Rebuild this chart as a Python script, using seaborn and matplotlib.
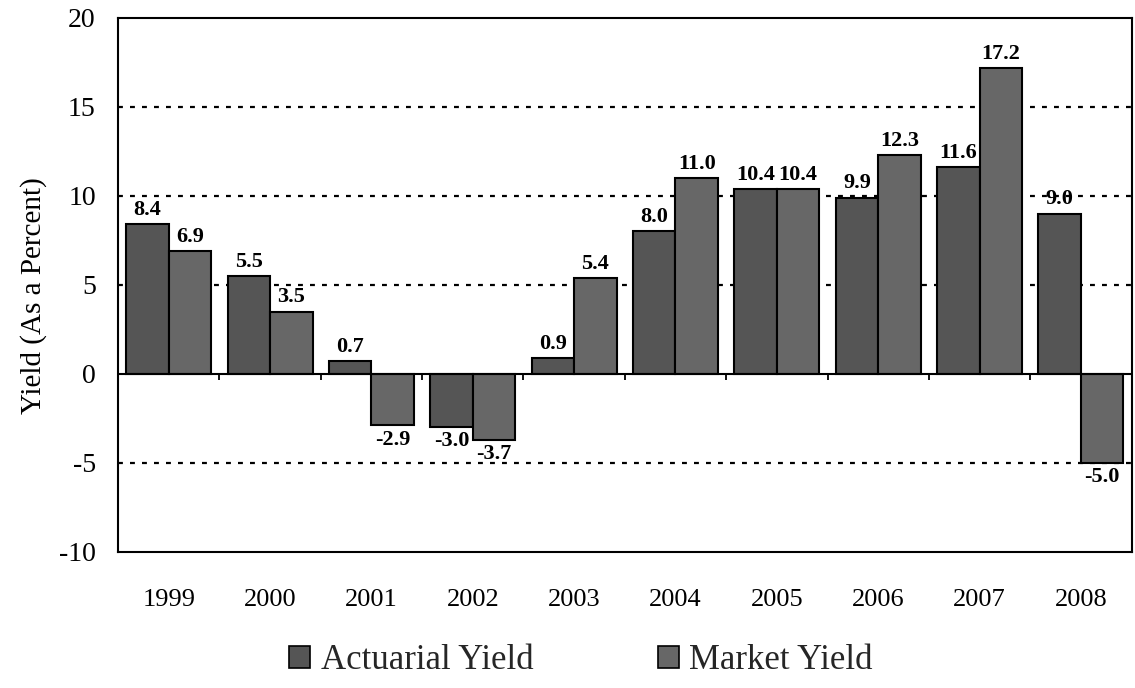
import numpy as np
import pandas as pd
import matplotlib
matplotlib.use("Agg")
import matplotlib.pyplot as plt
import seaborn as sns

years = ["1999", "2000", "2001", "2002", "2003", "2004", "2005", "2006", "2007", "2008"]
actuarial_yield = [8.4, 5.5, 0.7, -3.0, 0.9, 8.0, 10.4, 9.9, 11.6, 9.0]
market_yield = [6.9, 3.5, -2.9, -3.7, 5.4, 11.0, 10.4, 12.3, 17.2, -5.0]
series_names = ["Actuarial Yield", "Market Yield"]
y_ticks = [-10, -5, 0, 5, 10, 15, 20]
grid_levels = [-5, 5, 10, 15]

df = pd.DataFrame({
    "year": years * 2,
    "value": actuarial_yield + market_yield,
    "series": [series_names[0]] * len(years) + [series_names[1]] * len(years),
})

sns.set_theme(style="white")
plt.rcParams["font.family"] = ["Liberation Serif", "DejaVu Serif"]

fig = plt.figure(figsize=(11.35, 6.88), dpi=100)
ax = fig.add_axes([0.104, 0.198, 0.893, 0.776])

palette = {series_names[0]: "#555555", series_names[1]: "#676767"}

# dotted reference lines behind the bars
for lv in grid_levels:
    ax.axhline(lv, color="black", linestyle=(0, (2.2, 3.2)), linewidth=1.6, zorder=0)

sns.barplot(data=df, x="year", y="value", hue="series", order=years,
            hue_order=series_names, palette=palette, width=0.84,
            edgecolor="black", linewidth=1.5, saturation=1, ax=ax, zorder=2)

# value labels on each bar
for cont in ax.containers:
    ax.bar_label(cont, fmt="%.1f", padding=3, fontsize=16, fontweight="bold",
                 color="black")

# zero line with short ticks between year groups
ax.axhline(0, color="black", linewidth=1.5, zorder=3)
bounds = np.arange(len(years) - 1) + 0.5
ax.vlines(bounds, -0.35, 0, color="black", linewidth=1.3, zorder=3)

ax.set_xlim(-0.5, len(years) - 0.5)
ax.set_ylim(-10, 20)
ax.set_yticks(y_ticks)
ax.set_yticklabels([str(t) for t in y_ticks], fontsize=20)
ax.tick_params(axis="y", direction="inout", length=12, width=1.3, pad=10, colors="black")
ax.tick_params(axis="x", length=0, pad=27, labelsize=19, colors="black")
ax.set_xlabel("")
ax.set_ylabel("Yield (As a Percent)", fontsize=21, color="black")
ax.yaxis.set_label_coords(-0.07, 0.48)

for sp in ax.spines.values():
    sp.set_visible(True)
    sp.set_color("black")
    sp.set_linewidth(1.5)

ax.get_legend().remove()
handles = [plt.Rectangle((0, 0), 1, 1, facecolor=palette[n], edgecolor="black", linewidth=1.2)
           for n in series_names]
fig.legend(handles, series_names, loc="center", bbox_to_anchor=(0.512, 0.04),
           ncol=2, frameon=False, fontsize=25, handlelength=0.6, handleheight=0.6,
           handletextpad=0.3, columnspacing=3.6, borderpad=0)

fig.savefig("out.png", dpi=100, facecolor="white")
